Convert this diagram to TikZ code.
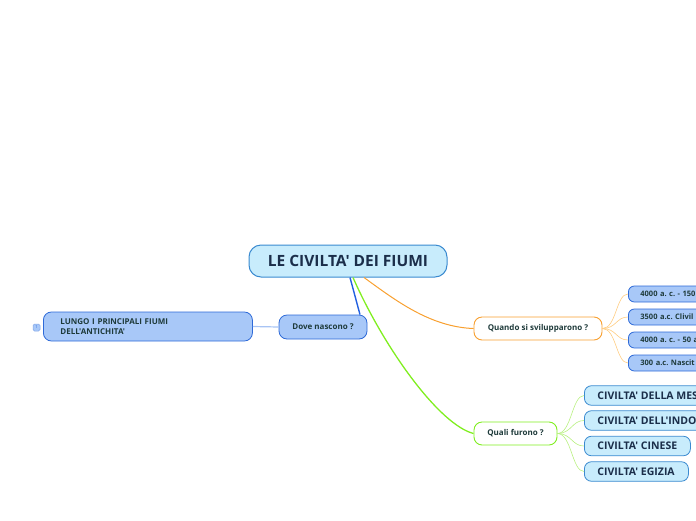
\documentclass[tikz,border=0pt]{standalone}
\usepackage{fontspec}
\setmainfont{Open Sans}[Ligatures=TeXOff]
\usetikzlibrary{calc}
\definecolor{txtdark}{HTML}{1B2E4A}
\definecolor{txtgreen}{HTML}{1E3A3A}
\definecolor{cfill}{HTML}{C8ECFC}
\definecolor{cdraw}{HTML}{3A8AD0}
\definecolor{bfill}{HTML}{A8C8F8}
\definecolor{bdraw}{HTML}{2E6AD8}
\definecolor{orangeL}{HTML}{F8A030}
\definecolor{orangeS}{HTML}{FFCC80}
\definecolor{greenL}{HTML}{80EE20}
\definecolor{greenS}{HTML}{B8F080}
\definecolor{blueL}{HTML}{2260E0}
\definecolor{blueS}{HTML}{A8C4F4}
\tikzset{
  central/.style={draw=cdraw, fill=cfill, line width=1pt, rounded corners=12pt,
    minimum width=198pt, minimum height=32pt, inner sep=0pt,
    font=\fontsize{15.5}{17}\selectfont\bfseries, text=txtdark},
  subbox/.style={draw=bdraw, fill=bfill, line width=0.8pt, rounded corners=8pt,
    minimum height=24pt, inner sep=0pt,
    font=\fontsize{8}{10}\selectfont\bfseries, text=txtgreen},
  whitebox/.style={fill=white, line width=0.9pt, rounded corners=8pt,
    minimum height=23pt, inner sep=0pt,
    font=\fontsize{8}{10}\selectfont\bfseries, text=txtgreen},
  leafb/.style={draw=bdraw, fill=bfill, line width=0.8pt, rounded corners=6pt,
    minimum height=16pt, minimum width=100pt, inner xsep=12pt, inner ysep=0pt,
    anchor=west, text width=76pt, align=left,
    font=\fontsize{7.5}{8}\selectfont\bfseries, text=txtgreen},
  leafc/.style={draw=cdraw, fill=cfill, line width=0.8pt, rounded corners=7pt,
    minimum height=19.5pt, inner xsep=13pt, inner ysep=0pt, anchor=west,
    font=\fontsize{10.5}{11}\selectfont\bfseries, text=txtdark},
  thinor/.style={draw=orangeS, line width=0.6pt},
  thingr/.style={draw=greenS, line width=0.6pt},
}
\begin{document}
\frenchspacing
\begin{tikzpicture}[x=1pt,y=-1pt]
\useasboundingbox (0,0) rectangle (696,520);

\node[central] (c) at (348,261) {LE CIVILTA' DEI FIUMI};

\node[subbox, minimum width=88pt] (dove) at (323,327) {Dove nascono ?};
\node[subbox, minimum width=209pt, minimum height=29pt, anchor=west,
      inner xsep=17pt, text width=175pt, align=left,
      font=\fontsize{8}{10.5}\selectfont\bfseries] (lungo) at (43,326.5)
      {LUNGO I PRINCIPALI FIUMI\\DELL'ANTICHITA'};
\node[draw=bdraw!60, fill=bfill, line width=0.5pt, rounded corners=1.5pt,
      minimum width=7pt, minimum height=7pt, inner sep=0pt,
      font=\fontsize{4}{4}\selectfont, text=bdraw] (icon) at (36.5,327.5) {1};

\node[whitebox, draw=orangeL, minimum width=128pt] (quando) at (538,328.5) {Quando si svilupparono ?};
\node[whitebox, draw=greenL, minimum width=83pt] (quali) at (515.5,433.5) {Quali furono ?};

\node[leafb] (o1) at (628,294) {4000 a. c. - 150};
\node[leafb] (o2) at (628,317) {3500 a.c. Clivil};
\node[leafb] (o3) at (628,340) {4000 a. c. - 50 a};
\node[leafb] (o4) at (628,363) {300 a.c. Nascit};

\node[leafc] (g1) at (584,395.5) {\makebox[110pt][l]{CIVILTA' DELLA MES}};
\node[leafc] (g2) at (584,420.5) {\makebox[110pt][l]{CIVILTA' DELL'INDO}};
\node[leafc] (g3) at (584,446) {\makebox[80pt][l]{CIVILTA' CINESE}};
\node[leafc] (g4) at (584,471.5) {\makebox[78pt][l]{CIVILTA' EGIZIA}};

% connectors
\draw[blueL, line width=1.4pt] ([xshift=2pt]c.south) -- ([xshift=37pt]dove.north);
\draw[orangeL, line width=1pt] ([xshift=16pt]c.south) .. controls (395,300) and (430,327) .. (quando.west);
\draw[greenL, line width=1.3pt] ([xshift=5pt]c.south) .. controls (385,350) and (440,425) .. (quali.west);
\draw[blueS, line width=1.2pt] (lungo.east) -- (dove.west);

\foreach \n in {o1,o2,o3,o4}
  \draw[thinor] (quando.east) .. controls +(14,0) and +(-12,0) .. (\n.west);
\foreach \n in {g1,g2,g3,g4}
  \draw[thingr] (quali.east) .. controls +(14,0) and +(-12,0) .. (\n.west);
\end{tikzpicture}
\end{document}
